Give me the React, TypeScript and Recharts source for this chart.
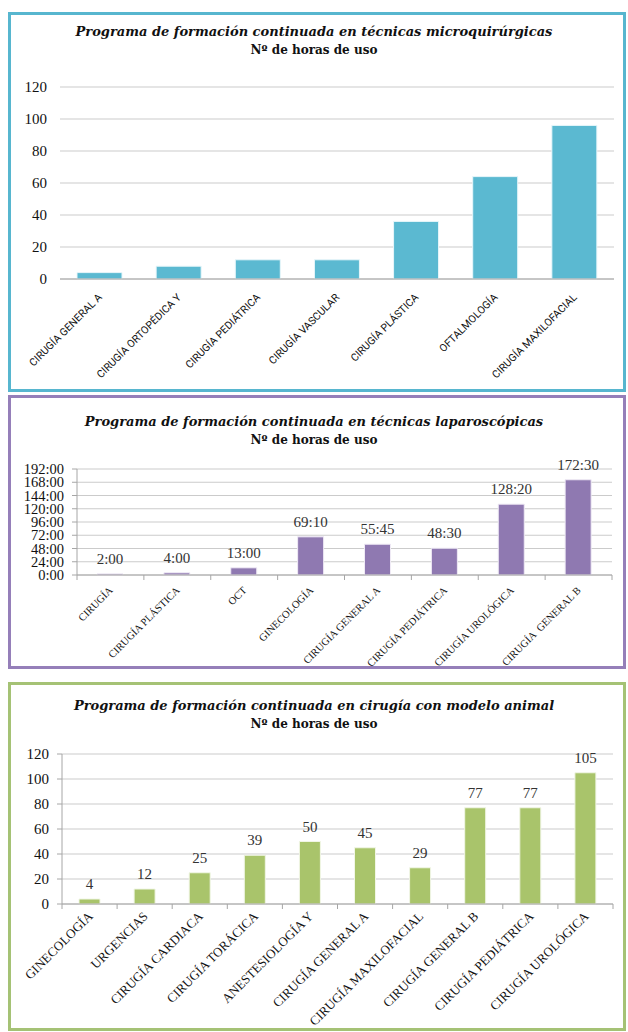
import React from 'react';
import { BarChart, Bar, XAxis, YAxis, CartesianGrid, LabelList } from 'recharts';

const microCategories = [
  'CIRUGÍA GENERAL A',
  'CIRUGÍA ORTOPÉDICA Y',
  'CIRUGÍA PEDIÁTRICA',
  'CIRUGÍA VASCULAR',
  'CIRUGÍA PLÁSTICA',
  'OFTALMOLOGÍA',
  'CIRUGÍA MAXILOFACIAL',
];
const microHours = [4, 8, 12, 12, 36, 64, 96];
const microTicks = [0, 20, 40, 60, 80, 100, 120];

const laparoCategories = [
  'CIRUGÍA',
  'CIRUGÍA PLÁSTICA',
  'OCT',
  'GINECOLOGÍA',
  'CIRUGÍA GENERAL A',
  'CIRUGÍA PEDIÁTRICA',
  'CIRUGÍA UROLÓGICA',
  'CIRUGÍA  GENERAL B',
];
// horas en decimal (69:10 -> 69.1667)
const laparoHours = [2, 4, 13, 69.1667, 55.75, 48.5, 128.3333, 172.5];
const laparoTicks = [0, 24, 48, 72, 96, 120, 144, 168, 192];

const animalCategories = [
  'GINECOLOGÍA',
  'URGENCIAS',
  'CIRUGÍA CARDIACA',
  'CIRUGÍA TORÁCICA',
  'ANESTESIOLOGÍA Y',
  'CIRUGÍA GENERAL A',
  'CIRUGÍA MAXILOFACIAL',
  'CIRUGÍA GENERAL B',
  'CIRUGÍA PEDIÁTRICA',
  'CIRUGÍA UROLÓGICA',
];
const animalHours = [4, 12, 25, 39, 50, 45, 29, 77, 77, 105];
const animalTicks = [0, 20, 40, 60, 80, 100, 120];

const microData = microCategories.map((name, i) => ({ name, value: microHours[i] }));
const laparoData = laparoCategories.map((name, i) => ({ name, value: laparoHours[i] }));
const animalData = animalCategories.map((name, i) => ({ name, value: animalHours[i] }));

const toHhMm = (h: number) => {
  const total = Math.round(h * 60);
  return `${Math.floor(total / 60)}:${String(total % 60).padStart(2, '0')}`;
};

const SERIF = '"Liberation Serif", serif';
const TITLE_FONT = '"DejaVu Serif", serif';
const AXIS_GREY = '#a6a6a6';
const GRID_GREY = '#cbcbcb';

const AngledTick = (props: any) => {
  const { x, y, payload, index, band, count, gap, fontSize, fontFamily, boundary, dx = 0 } = props;
  const tx = x + dx;
  const ty = y + gap;
  return (
    <g>
      {boundary && (
        <line x1={x - band / 2} x2={x - band / 2} y1={y} y2={y + 5} stroke={AXIS_GREY} />
      )}
      {boundary && index === count - 1 && (
        <line x1={x + band / 2} x2={x + band / 2} y1={y} y2={y + 5} stroke={AXIS_GREY} />
      )}
      <text
        x={tx}
        y={ty}
        transform={`rotate(-45 ${tx} ${ty})`}
        textAnchor="end"
        fontSize={fontSize}
        fontFamily={fontFamily}
        fill="#111"
        style={{ whiteSpace: 'pre' }}
      >
        {payload.value}
      </text>
    </g>
  );
};

const Frame = ({ top, height, color }: { top: number; height: number; color: string }) => (
  <div
    style={{
      position: 'absolute',
      left: 8,
      top,
      width: 618,
      height,
      border: `3px solid ${color}`,
      boxSizing: 'border-box',
    }}
  />
);

const Titles = ({ title, y }: { title: string; y: number }) => (
  <>
    <div
      style={{
        position: 'absolute',
        left: 0,
        top: y - 9,
        width: 628,
        textAlign: 'center',
        fontFamily: TITLE_FONT,
        fontStyle: 'italic',
        fontWeight: 'bold',
        fontSize: 13,
        lineHeight: '18px',
        color: '#111',
      }}
    >
      {title}
    </div>
    <div
      style={{
        position: 'absolute',
        left: 0,
        top: y + 10,
        width: 628,
        textAlign: 'center',
        fontFamily: TITLE_FONT,
        fontWeight: 'bold',
        fontSize: 12,
        lineHeight: '16px',
        color: '#111',
      }}
    >
      Nº de horas de uso
    </div>
  </>
);

export default function App() {
  return (
    <div
      style={{
        position: 'absolute',
        left: 0,
        top: 0,
        width: 628,
        height: 1032,
        background: '#fff',
        overflow: 'hidden',
      }}
    >
      <Frame top={12} height={380} color="#57b6cf" />
      <Frame top={395} height={274} color="#957fb9" />
      <Frame top={682} height={349} color="#a5c275" />

      <Titles title="Programa de formación continuada en técnicas microquirúrgicas" y={32} />
      <Titles title="Programa de formación continuada en técnicas laparoscópicas" y={422} />
      <Titles title="Programa de formación continuada en cirugía con modelo animal" y={706} />

      {/* microquirúrgicas */}
      <div style={{ position: 'absolute', left: 0, top: 0 }}>
        <BarChart
          width={628}
          height={392}
          data={microData}
          margin={{ top: 87, right: 14, bottom: 0, left: 0 }}
          barSize={45}
        >
          <CartesianGrid vertical={false} stroke={GRID_GREY} />
          <XAxis
            dataKey="name"
            interval={0}
            height={113}
            tickSize={0}
            tickMargin={0}
            tickLine={false}
            axisLine={{ stroke: AXIS_GREY }}
            tick={(p: any) => (
              <AngledTick
                {...p}
                band={554 / 7}
                count={7}
                gap={19}
                dx={3}
                fontSize={10.5}
                fontFamily="Roboto, sans-serif"
                boundary={false}
              />
            )}
          />
          <YAxis
            domain={[0, 120]}
            ticks={microTicks}
            interval={0}
            width={60}
            axisLine={false}
            tickLine={false}
            tickSize={0}
            tickMargin={13}
            tick={{ fill: '#111', fontSize: 15, fontFamily: SERIF }}
          />
          <Bar dataKey="value" fill="#5bb9d1" stroke="#e8f6fa" strokeWidth={1} isAnimationActive={false} />
        </BarChart>
      </div>

      {/* laparoscópicas */}
      <div style={{ position: 'absolute', left: 0, top: 395 }}>
        <BarChart
          width={628}
          height={274}
          data={laparoData}
          margin={{ top: 74, right: 16, bottom: 0, left: 0 }}
          barSize={26}
        >
          <CartesianGrid vertical={false} stroke={GRID_GREY} />
          <XAxis
            dataKey="name"
            interval={0}
            height={94}
            tickSize={0}
            tickMargin={0}
            tickLine={false}
            axisLine={{ stroke: AXIS_GREY }}
            tick={(p: any) => (
              <AngledTick
                {...p}
                band={535 / 8}
                count={8}
                gap={16}
                dx={3}
                fontSize={10.5}
                fontFamily={SERIF}
                boundary
              />
            )}
          />
          <YAxis
            domain={[0, 192]}
            ticks={laparoTicks}
            interval={0}
            width={77}
            axisLine={{ stroke: AXIS_GREY }}
            tickLine={{ stroke: AXIS_GREY }}
            tickSize={5}
            tickMargin={8}
            tickFormatter={toHhMm}
            tick={{ fill: '#111', fontSize: 14.5, fontFamily: SERIF }}
          />
          <Bar dataKey="value" fill="#8f79b1" stroke="#efeaf5" strokeWidth={1} isAnimationActive={false}>
            <LabelList
              dataKey="value"
              position="top"
              offset={10}
              formatter={(v: any) => toHhMm(Number(v))}
              fill="#333"
              fontSize={15}
              fontFamily={SERIF}
            />
          </Bar>
        </BarChart>
      </div>

      {/* modelo animal */}
      <div style={{ position: 'absolute', left: 0, top: 682 }}>
        <BarChart
          width={628}
          height={349}
          data={animalData}
          margin={{ top: 72, right: 15, bottom: 0, left: 0 }}
          barSize={21}
        >
          <CartesianGrid vertical={false} stroke={GRID_GREY} />
          <XAxis
            dataKey="name"
            interval={0}
            height={127}
            tickSize={0}
            tickMargin={0}
            tickLine={false}
            axisLine={{ stroke: AXIS_GREY }}
            tick={(p: any) => (
              <AngledTick
                {...p}
                band={551 / 10}
                count={10}
                gap={13}
                dx={4}
                fontSize={13}
                fontFamily={SERIF}
                boundary
              />
            )}
          />
          <YAxis
            domain={[0, 120]}
            ticks={animalTicks}
            interval={0}
            width={62}
            axisLine={{ stroke: AXIS_GREY }}
            tickLine={{ stroke: AXIS_GREY }}
            tickSize={5}
            tickMargin={8}
            tick={{ fill: '#111', fontSize: 15, fontFamily: SERIF }}
          />
          <Bar dataKey="value" fill="#a9c46b" stroke="#f1f6e6" strokeWidth={1} isAnimationActive={false}>
            <LabelList
              dataKey="value"
              position="top"
              offset={10}
              fill="#333"
              fontSize={15}
              fontFamily={SERIF}
            />
          </Bar>
        </BarChart>
      </div>
    </div>
  );
}
